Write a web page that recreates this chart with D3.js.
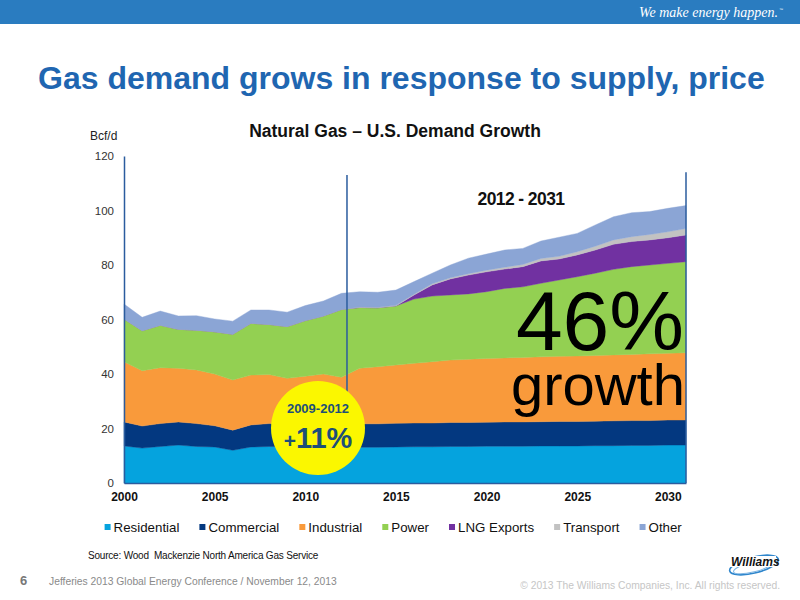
<!DOCTYPE html>
<html>
<head>
<meta charset="utf-8">
<script src="https://cdn.jsdelivr.net/npm/d3@7"></script>
<style>
  html, body { margin: 0; padding: 0; background: #fff; }
  svg { display: block; font-family: "Liberation Sans", Arial, sans-serif; }
</style>
</head>
<body>
<svg id="chart" width="800" height="600"></svg>
<script>
// Bcf/d by sector (2000 - 2031)
const years = d3.range(2000, 2032);
const residential = [13.6,12.8,13.4,13.9,13.4,13.2,12.0,13.2,13.4,13.3,13.3,13.2,12.3,13.1,13.1,13.2,13.3,13.3,13.4,13.4,13.5,13.5,13.5,13.6,13.6,13.6,13.7,13.7,13.8,13.8,13.9,13.9];
const commercial  = [8.8,8.1,8.4,8.5,8.4,7.8,7.4,8.1,8.4,8.4,8.5,8.3,8.2,8.6,8.6,8.7,8.7,8.7,8.8,8.8,8.8,8.9,8.9,8.9,9.0,9.0,9.0,9.1,9.1,9.1,9.2,9.2];
const industrial  = [22.1,20.3,20.5,19.7,19.7,19.0,18.4,18.3,18.0,16.7,17.4,18.5,18.3,20.4,21.0,21.4,21.9,22.5,22.9,23.2,23.4,23.5,23.7,23.8,23.9,24.0,24.1,24.2,24.3,24.5,24.5,24.7];
const power       = [15.7,14.7,15.6,14.3,14.6,15.5,16.8,19.0,18.4,19.0,20.4,21.3,24.9,22.3,21.6,21.7,23.6,24.1,23.9,24.0,24.5,25.5,25.9,27.0,28.0,29.1,30.2,31.4,32.2,32.6,33.0,33.4];
const lngExports  = [0,0,0,0,0,0,0,0,0,0,0,0,0,0,0,0,1.5,4.1,5.9,6.9,7.3,7.1,7.4,8.2,7.7,8.0,8.5,9.2,9.2,9.2,9.4,9.8];
const transport   = [0,0,0,0,0,0,0,0,0,0,0,0,0,0.2,0.2,0.2,0.3,0.4,0.4,0.5,0.6,0.7,0.8,0.9,1.0,1.2,1.4,1.6,1.8,2.0,2.2,2.4];
const other       = [5.5,4.9,5.2,4.9,5.3,4.7,4.8,4.9,5.3,5.3,5.5,5.5,5.9,5.6,5.5,5.6,4.6,3.9,4.7,5.7,5.9,6.3,5.9,6.4,7.0,6.7,7.8,8.5,8.8,8.4,8.6,8.4];

const seriesNames = ["Residential", "Commercial", "Industrial", "Power", "LNG Exports", "Transport", "Other"];
const seriesValues = [residential, commercial, industrial, power, lngExports, transport, other];
const seriesColors = ["#05a3de", "#033880", "#f99a3b", "#93d052", "#7131a1", "#c2c2c2", "#8ba5d5"];

const yTicks = [0, 20, 40, 60, 80, 100, 120];
const xTicks = [2000, 2005, 2010, 2015, 2020, 2025, 2030];

const svg = d3.select("#chart");

// ---- slide furniture
svg.append("rect").attr("x", 0).attr("y", 0).attr("width", 800).attr("height", 24).attr("fill", "#2a7cc0");
svg.append("text")
  .attr("x", 778).attr("y", 17)
  .attr("text-anchor", "end")
  .attr("font-family", "'Liberation Serif', 'DejaVu Serif', serif")
  .attr("font-style", "italic")
  .attr("font-size", "14px")
  .attr("fill", "#fff")
  .text("We make energy happen.");
svg.append("text")
  .attr("x", 779).attr("y", 11)
  .attr("font-size", "4px")
  .attr("fill", "#fff")
  .text("™");

svg.append("text")
  .attr("x", 38).attr("y", 89)
  .attr("font-size", "32px")
  .attr("font-weight", "bold")
  .attr("fill", "#1f66b1")
  .text("Gas demand grows in response to supply, price");

svg.append("text")
  .attr("x", 395).attr("y", 137)
  .attr("text-anchor", "middle")
  .attr("font-size", "17.5px")
  .attr("font-weight", "bold")
  .attr("fill", "#111")
  .text("Natural Gas \u2013 U.S. Demand Growth");

svg.append("text")
  .attr("x", 90).attr("y", 140)
  .attr("font-size", "12px")
  .attr("fill", "#222")
  .text("Bcf/d");

// ---- scales
const x = d3.scaleLinear().domain([2000, 2031]).range([124, 686]);
const y = d3.scaleLinear().domain([0, 120]).range([483, 156]);

// ---- stacked areas
const rows = years.map((yr, i) => {
  const r = { year: yr };
  seriesNames.forEach((name, s) => { r[name] = seriesValues[s][i]; });
  return r;
});
const stacked = d3.stack().keys(seriesNames)(rows);

const area = d3.area()
  .x(d => x(d.data.year))
  .y0(d => y(d[0]))
  .y1(d => y(d[1]));

svg.append("g")
  .selectAll("path")
  .data(stacked)
  .join("path")
  .attr("d", area)
  .attr("fill", (d, i) => seriesColors[i])
  .attr("stroke", (d, i) => seriesColors[i])
  .attr("stroke-width", 0.4);

// ---- axes
const yAxis = d3.axisLeft(y).tickValues(yTicks).tickSize(0).tickSizeOuter(0).tickPadding(10);
const gy = svg.append("g").attr("transform", `translate(${x(2000)},0)`).call(yAxis);
gy.select(".domain").attr("stroke", "#2b5c9e").attr("stroke-width", 1.5);
gy.selectAll("text").attr("font-size", "11.5px").attr("fill", "#333").attr("font-family", "'Liberation Sans', Arial, sans-serif");

const xAxis = d3.axisBottom(x).tickValues(xTicks).tickFormat(d3.format("d")).tickSize(0).tickSizeOuter(0).tickPadding(9);
const gx = svg.append("g").attr("transform", `translate(0,${y(0)})`).call(xAxis);
gx.select(".domain").attr("stroke", "#2b5c9e").attr("stroke-width", 1.5);
gx.selectAll("text").attr("font-size", "12px").attr("font-weight", "bold").attr("fill", "#111").attr("font-family", "'Liberation Sans', Arial, sans-serif");

// ---- period markers
svg.append("line")
  .attr("x1", x(2012.3)).attr("x2", x(2012.3))
  .attr("y1", y(113)).attr("y2", y(30))
  .attr("stroke", "#2b5c9e").attr("stroke-width", 1.5);
svg.append("line")
  .attr("x1", x(2031)).attr("x2", x(2031))
  .attr("y1", y(114)).attr("y2", y(0))
  .attr("stroke", "#2b5c9e").attr("stroke-width", 1.5);

svg.append("text")
  .attr("x", 521).attr("y", 205)
  .attr("text-anchor", "middle")
  .attr("font-size", "17.5px")
  .attr("font-weight", "bold")
  .attr("letter-spacing", "-0.6px")
  .attr("fill", "#111")
  .text("2012 - 2031");

svg.append("text")
  .attr("x", 684).attr("y", 350)
  .attr("text-anchor", "end")
  .attr("font-size", "84px")
  .attr("fill", "#000")
  .text("46%");
svg.append("text")
  .attr("x", 685).attr("y", 405)
  .attr("text-anchor", "end")
  .attr("font-size", "58px")
  .attr("fill", "#000")
  .text("growth");

// ---- 2009-2012 callout
svg.append("circle").attr("cx", 318).attr("cy", 428).attr("r", 47).attr("fill", "#fbf700");
svg.append("text")
  .attr("x", 318).attr("y", 413)
  .attr("text-anchor", "middle")
  .attr("font-size", "13px")
  .attr("font-weight", "bold")
  .attr("fill", "#1d4f78")
  .text("2009-2012");
const pct = svg.append("text")
  .attr("x", 318).attr("y", 448)
  .attr("text-anchor", "middle")
  .attr("font-weight", "bold")
  .attr("fill", "#1d4f78");
pct.append("tspan").attr("font-size", "21px").text("+");
pct.append("tspan").attr("font-size", "29px").text("11%");

// ---- legend
const legend = svg.append("g").attr("font-size", "13.3px").attr("fill", "#111");
let lx = 104.6;
seriesNames.forEach((name, i) => {
  legend.append("rect")
    .attr("x", lx).attr("y", 524)
    .attr("width", 6).attr("height", 6)
    .attr("fill", seriesColors[i]);
  const t = legend.append("text")
    .attr("x", lx + 9).attr("y", 532)
    .text(name);
  lx += 9 + t.node().getComputedTextLength() + 20;
});

// ---- footer
svg.append("text")
  .attr("x", 88).attr("y", 559)
  .attr("font-size", "10px")
  .attr("letter-spacing", "-0.2px")
  .attr("fill", "#111")
  .text("Source: Wood  Mackenzie North America Gas Service")
  .attr("xml:space", "preserve")
  .style("white-space", "pre");

svg.append("text")
  .attr("x", 20).attr("y", 585)
  .attr("font-size", "13px")
  .attr("font-weight", "bold")
  .attr("fill", "#777")
  .text("6");
svg.append("text")
  .attr("x", 49).attr("y", 585)
  .attr("font-size", "10.3px")
  .attr("fill", "#8a8a8a")
  .text("Jefferies 2013 Global Energy Conference / November 12, 2013");
svg.append("text")
  .attr("x", 780).attr("y", 589)
  .attr("text-anchor", "end")
  .attr("font-size", "10.3px")
  .attr("fill", "#c6c6c6")
  .text("\u00a9 2013 The Williams Companies, Inc. All rights reserved.");

// Williams logo
const logo = svg.append("g");
logo.append("ellipse")
  .attr("cx", 754).attr("cy", 565).attr("rx", 25).attr("ry", 8)
  .attr("transform", "rotate(-14 754 565)")
  .attr("fill", "none").attr("stroke", "#2f86cc").attr("stroke-width", 1.6);
logo.append("ellipse")
  .attr("cx", 753).attr("cy", 567).attr("rx", 20).attr("ry", 5)
  .attr("transform", "rotate(-14 753 567)")
  .attr("fill", "none").attr("stroke", "#7fb6e4").attr("stroke-width", 1);
logo.append("rect").attr("x", 730).attr("y", 556).attr("width", 46).attr("height", 11).attr("fill", "#fff");
logo.append("text")
  .attr("x", 731).attr("y", 566)
  .attr("font-size", "12px")
  .attr("font-weight", "bold")
  .attr("font-style", "italic")
  .attr("fill", "#111")
  .text("Williams");
logo.append("text")
  .attr("x", 772).attr("y", 566)
  .attr("font-size", "5px")
  .attr("fill", "#111")
  .text(".");
</script>
</body>
</html>
